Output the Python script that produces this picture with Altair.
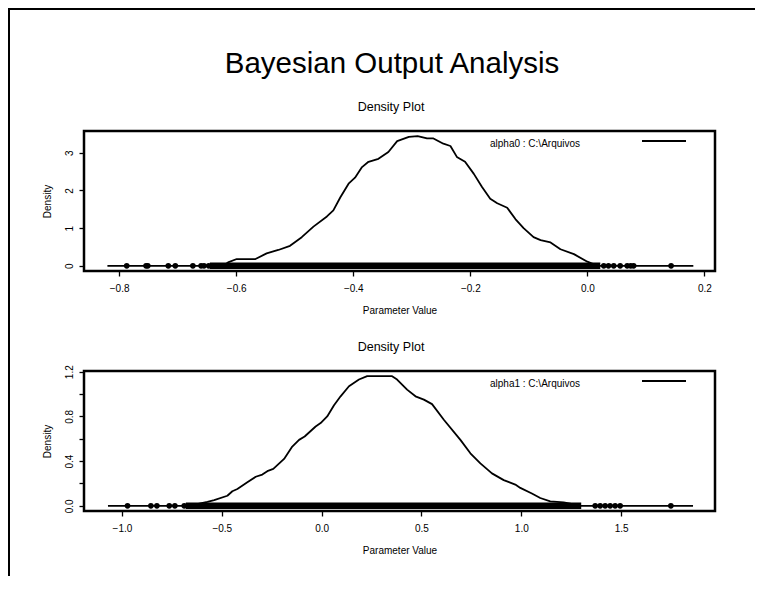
import altair as alt
import pandas as pd

FONT = "Liberation Sans"
W, H = 747, 568

MAIN_TITLE = "Bayesian Output Analysis"
SUB_TITLE = "Density Plot"
X_TITLE = "Parameter Value"
Y_TITLE = "Density"

# ---- alpha0 ----
a0_x = [-0.82, -0.622, -0.614, -0.599, -0.567, -0.548, -0.528, -0.508, -0.488, -0.468,
        -0.445, -0.434, -0.422, -0.408, -0.397, -0.385, -0.374, -0.357, -0.340, -0.325,
        -0.305, -0.290, -0.274, -0.263, -0.246, -0.234, -0.223, -0.209, -0.194, -0.180,
        -0.166, -0.154, -0.137, -0.123, -0.109, -0.092, -0.080, -0.063, -0.046, -0.023,
        0.000, 0.017, 0.181]
a0_d = [0.0, 0.0, 0.09, 0.18, 0.18, 0.33, 0.42, 0.53, 0.76, 1.04,
        1.31, 1.47, 1.82, 2.18, 2.34, 2.62, 2.76, 2.84, 3.02, 3.31,
        3.42, 3.44, 3.38, 3.38, 3.24, 3.18, 2.89, 2.76, 2.44, 2.09,
        1.78, 1.66, 1.54, 1.24, 1.00, 0.76, 0.68, 0.62, 0.44, 0.31,
        0.11, 0.0, 0.0]
a0_pts = [-0.787, -0.754, -0.751, -0.716, -0.704, -0.674, -0.660, -0.655, -0.647,
          0.028, 0.036, 0.045, 0.056, 0.068, 0.074, 0.079, 0.143]
a0_band = [-0.645, 0.022]
a0_xdom = [-0.860, 0.218]
a0_ydom = [-0.1376, 3.5776]
a0_xticks = [-0.8, -0.6, -0.4, -0.2, 0.0, 0.2]
a0_yticks = [0, 1, 2, 3]
a0_legend = "alpha0 : C:\\Arquivos"

# ---- alpha1 ----
a1_x = [-1.07, -0.64, -0.613, -0.572, -0.538, -0.472, -0.447, -0.422, -0.372, -0.33,
        -0.297, -0.272, -0.242, -0.188, -0.147, -0.113, -0.085, -0.03, -0.005, 0.028,
        0.062, 0.095, 0.137, 0.187, 0.228, 0.353, 0.378, 0.428, 0.47, 0.512,
        0.553, 0.612, 0.695, 0.745, 0.795, 0.853, 0.912, 0.97, 0.995, 1.053,
        1.095, 1.145, 1.212, 1.245, 1.295, 1.86]
a1_d = [0.0, 0.0, 0.02, 0.036, 0.051, 0.09, 0.13, 0.15, 0.21, 0.26,
        0.28, 0.31, 0.33, 0.42, 0.53, 0.59, 0.62, 0.71, 0.74, 0.80,
        0.90, 0.98, 1.07, 1.13, 1.16, 1.16, 1.13, 1.04, 0.98, 0.95,
        0.91, 0.77, 0.59, 0.47, 0.38, 0.29, 0.23, 0.19, 0.16, 0.11,
        0.07, 0.04, 0.03, 0.02, 0.0, 0.0]
a1_pts = [-0.972, -0.855, -0.825, -0.763, -0.735, -0.688,
          1.37, 1.395, 1.42, 1.445, 1.47, 1.495, 1.749]
a1_band = [-0.68, 1.30]
a1_xdom = [-1.19, 1.97]
a1_ydom = [-0.0464, 1.2064]
a1_xticks = [-1.0, -0.5, 0.0, 0.5, 1.0, 1.5]
a1_yticks = [0.0, 0.2, 0.4, 0.6, 0.8, 1.0, 1.2]
a1_legend = "alpha1 : C:\\Arquivos"

BOX_L, BOX_R = 76, 707
BOX_H = 140

one = pd.DataFrame({"a": [0]})


def panel(xv, dv, pts, band, xdom, ydom, xticks, yticks, ylabexpr, legend, top):
    bot = top + BOX_H
    xs = alt.Scale(domain=xdom, range=[BOX_L, BOX_R], zero=False, nice=False)
    ys = alt.Scale(domain=ydom, range=[bot, top], zero=False, nice=False)
    xax = alt.Axis(values=xticks, format=".1f", orient="bottom", offset=bot - H,
                   domain=False, grid=False, ticks=True, tickSize=5, tickWidth=1.3,
                   tickColor="black", labelFont=FONT, labelFontSize=10,
                   labelColor="black", labelPadding=7, labelFlush=False,
                   labelOverlap=False, title=X_TITLE, titleFont=FONT,
                   titleFontSize=10, titleFontWeight="normal", titleColor="black",
                   titlePadding=12)
    yax = alt.Axis(values=yticks, orient="left", offset=-BOX_L, labelExpr=ylabexpr,
                   domain=False, grid=False, ticks=True, tickSize=5, tickWidth=1.3,
                   tickColor="black", labelFont=FONT, labelFontSize=10,
                   labelColor="black", labelAngle=270, labelAlign="center",
                   labelBaseline="bottom", labelPadding=5, labelFlush=False,
                   labelOverlap=False, title=Y_TITLE, titleFont=FONT,
                   titleFontSize=10, titleFontWeight="normal", titleColor="black",
                   titlePadding=12)
    dens = pd.DataFrame({"v": xv, "d": dv})
    pdf = pd.DataFrame({"v": pts, "d": [0.0] * len(pts)})
    bdf = pd.DataFrame({"lo": [band[0]], "hi": [band[1]], "d": [0.0]})

    band_l = alt.Chart(bdf).mark_rule(color="black", strokeWidth=6.5).encode(
        x=alt.X("lo:Q", scale=xs, axis=xax), x2="hi:Q",
        y=alt.Y("d:Q", scale=ys, axis=yax))
    line_l = alt.Chart(dens).mark_line(color="black", strokeWidth=1.8,
                                       strokeJoin="round").encode(
        x=alt.X("v:Q", scale=xs, axis=xax), y=alt.Y("d:Q", scale=ys, axis=yax))
    dots_l = alt.Chart(pdf).mark_circle(color="black", opacity=1, size=32).encode(
        x=alt.X("v:Q", scale=xs, axis=xax), y=alt.Y("d:Q", scale=ys, axis=yax))
    box = alt.Chart(one).mark_rect(fillOpacity=0, stroke="black", strokeWidth=2.5).encode(
        x=alt.value(BOX_L), x2=alt.value(BOX_R), y=alt.value(top), y2=alt.value(bot))
    leg_t = alt.Chart(pd.DataFrame({"t": [legend]})).mark_text(
        align="left", baseline="alphabetic", font=FONT, fontSize=10, color="black").encode(
        x=alt.value(482), y=alt.value(top + 16), text="t:N")
    leg_l = alt.Chart(one).mark_rule(color="black", strokeWidth=2).encode(
        x=alt.value(634), x2=alt.value(678), y=alt.value(top + 10))
    return alt.layer(box, line_l, band_l, dots_l, leg_t, leg_l)


p0 = panel(a0_x, a0_d, a0_pts, a0_band, a0_xdom, a0_ydom, a0_xticks, a0_yticks,
           "format(datum.value, 'd')", a0_legend, 123)
p1 = panel(a1_x, a1_d, a1_pts, a1_band, a1_xdom, a1_ydom, a1_xticks, a1_yticks,
           "indexof(['0.0','0.4','0.8','1.2'], format(datum.value, '.1f')) >= 0 ? format(datum.value, '.1f') : ''",
           a1_legend, 363)

titles = pd.DataFrame({"t": [MAIN_TITLE, SUB_TITLE, SUB_TITLE]})
main_t = alt.Chart(titles.iloc[[0]]).mark_text(
    align="center", baseline="alphabetic", font=FONT, fontSize=29.5, color="black").encode(
    x=alt.value(384), y=alt.value(65), text="t:N")
sub_t1 = alt.Chart(titles.iloc[[1]]).mark_text(
    align="center", baseline="alphabetic", font=FONT, fontSize=12.5, color="black").encode(
    x=alt.value(383), y=alt.value(103), text="t:N")
sub_t2 = alt.Chart(titles.iloc[[2]]).mark_text(
    align="center", baseline="alphabetic", font=FONT, fontSize=12.5, color="black").encode(
    x=alt.value(383), y=alt.value(343), text="t:N")

frame_top = alt.Chart(one).mark_rule(color="black", strokeWidth=2).encode(
    x=alt.value(0), x2=alt.value(W), y=alt.value(1))
frame_left = alt.Chart(one).mark_rule(color="black", strokeWidth=2).encode(
    x=alt.value(1), y=alt.value(0), y2=alt.value(H))

chart = alt.layer(frame_top, frame_left, main_t, sub_t1, sub_t2, p0, p1).resolve_scale(
    x="independent", y="independent"
).properties(
    width=W, height=H, padding=0, autosize=alt.AutoSizeParams(type="none"),
    background="white"
).configure(font=FONT).configure_view(strokeWidth=0)

chart.save("out.html", embed_options={"renderer": "svg", "actions": False})
